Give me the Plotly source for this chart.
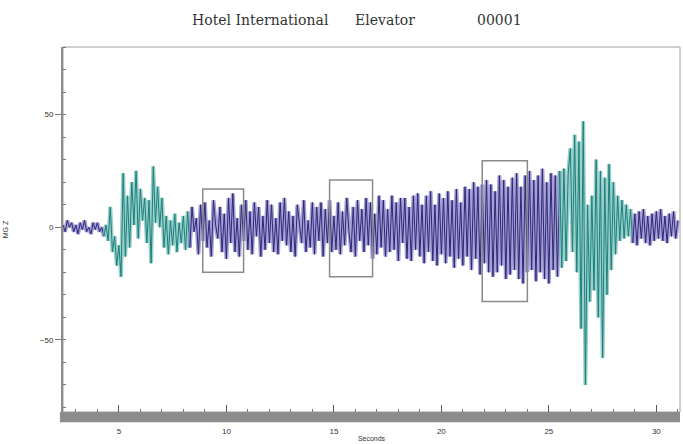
import plotly.graph_objects as go

T0 = 2.4
DT = 0.1
signal = [
    1, -2, 3, 0, 2, -2,
    1, -3, 2, -1, 3, -2, 0, -3, 2, -1,
    2, -2, 0, -4, 1, -6, 9, -11, -4, -17,
    -8, -22, 24, -13, 14, -9, 20, 1, 25, -5,
    17, 3, 13, -7, 12, -16, 27, 2, 18, 0,
    13, -9, 5, -12, 3, -8, 6, -11, 2, -7,
    5, -10, 7, -9, 9, -2, 4, -12, 10, -6,
    11, -9, 3, -13, 12, 1, -5, 9, -11, 6,
    -14, 13, -7, 15, -11, 4, -13, 10, -6, 12,
    -10, 7, -12, 11, -4, 9, -13, 5, -10, 12,
    -7, 10, -11, 4, -12, 11, -6, 13, -8, 7,
    -11, 5, -13, 10, 2, -7, 12, -11, 3, -9,
    11, -12, 9, -6, 11, -13, 8, -7, 12, -11,
    5, -10, 11, -12, 7, -8, 13, -2, -11, 9,
    -13, 12, -6, 8, -11, 13, -8, 11, -14, 6,
    -12, 14, -9, 12, -13, 8, -11, 14, -10, 11,
    -15, 13, -7, 13, -14, 9, -15, 14, -10, 15,
    -13, 10, -16, 14, -11, 16, -15, 10, -17, 15,
    -12, 13, -16, 16, -13, 12, -18, 17, -14, 11,
    -17, 18, -13, 17, -19, 20, -14, 18, -21, 19,
    -16, 21, -20, 19, -22, 16, -20, 23, -17, 21,
    -23, 18, -21, 22, -19, 24, -23, 18, -25, 23,
    -20, 25, -19, 21, -24, 23, -20, 26, -23, 20,
    -25, 24, -19, 23, -22, 25, -18, 26, -15, 24,
    35, -11, 41, -20, 38, -45, 47, -70, 10, -33,
    14, -28, 30, -40, 25, -58, 22, -30, 28, -19,
    20, -12, 14, -6, 12, -5, 10, -4, 8, -7,
    6, -8, 7, -5, 8, -7, 5, -8, 6, -6,
    7, -5, 8, -6, 5, -7, 6, -4, 7, -5,
    3,
]
times = [round(T0 + i * DT, 2) for i in range(len(signal))]

# colour segments: (start s, end s, colour key)
segments = [
    (2.4, 4.3, "navy"),
    (4.3, 8.3, "teal"),
    (8.3, 25.5, "navy"),
    (25.5, 28.9, "teal"),
    (28.9, 31.0, "navy"),
]
colors = {
    "navy": ("rgba(130,120,195,0.7)", "#2d2878"),
    "teal": ("rgba(115,185,180,0.7)", "#17827d"),
}

box_x0 = [8.9, 14.8, 21.9]
box_x1 = [10.8, 16.8, 24.0]
box_y0 = [-20, -22, -33]
box_y1 = [17, 21, 29.5]

x_ticks = [5, 10, 15, 20, 25, 30]
y_ticks = [-50, 0, 50]

title_parts = ["Hotel International", "Elevator", "00001"]
title_centers = [260, 385, 499]  # pixel centres in the 683 px wide page

fig = go.Figure()
for s0, s1, key in segments:
    xs = [t for t in times if s0 - 1e-9 <= t <= s1 + 1e-9]
    ys = [v for t, v in zip(times, signal) if s0 - 1e-9 <= t <= s1 + 1e-9]
    light, dark = colors[key]
    fig.add_trace(go.Scatter(x=xs, y=ys, mode="lines",
                             line=dict(color=light, width=4), hoverinfo="skip",
                             showlegend=False))
    fig.add_trace(go.Scatter(x=xs, y=ys, mode="lines",
                             line=dict(color=dark, width=1), showlegend=False))

for a, b, c, d in zip(box_x0, box_x1, box_y0, box_y1):
    fig.add_shape(type="rect", xref="x", yref="y", x0=a, x1=b, y0=c, y1=d,
                  line=dict(color="#8a8a8a", width=1.5))

# frame and bottom shadow bar
fig.add_shape(type="rect", xref="paper", yref="paper", x0=0, x1=1, y0=0, y1=1,
              line=dict(color="#a0a0a0", width=1), layer="below")
fig.add_shape(type="rect", xref="paper", yref="paper", x0=-0.005, x1=1.0,
              y0=-0.028, y1=0, fillcolor="#8c8c8c", line=dict(width=0), layer="below")

for txt, cx in zip(title_parts, title_centers):
    fig.add_annotation(text=txt, xref="paper", yref="paper",
                       x=(cx - 63) / 617, y=1 + (47 - 20) / 365,
                       xanchor="center", yanchor="middle", showarrow=False,
                       font=dict(family="DejaVu Serif", size=14, color="#333"))

fig.update_layout(
    width=683, height=444,
    margin=dict(l=63, r=3, t=47, b=32),
    paper_bgcolor="white", plot_bgcolor="white",
    font=dict(family="Liberation Sans", size=8, color="#333"),
)
fig.update_xaxes(
    range=[2.4, 31.1], tickvals=x_ticks, showgrid=False, zeroline=False,
    showline=True, linecolor="#8c8c8c", linewidth=2,
    ticks="inside", ticklen=7, tickcolor="#555", tickwidth=1,
    minor=dict(dtick=1, ticks="inside", ticklen=3, tickcolor="#777", showgrid=False),
    ticklabelstandoff=10,
    tickfont=dict(size=8, color="#333"),
    title=dict(text="Seconds", font=dict(size=7, color="#333"), standoff=2),
)
fig.update_yaxes(
    range=[-82, 80], tickvals=y_ticks, showgrid=False, zeroline=False,
    showline=True, linecolor="#8c8c8c", linewidth=2,
    ticks="outside", ticklen=6, tickcolor="#777", tickwidth=1,
    minor=dict(dtick=10, ticks="inside", ticklen=3, tickcolor="#777", showgrid=False),
    tickfont=dict(size=8, color="#333"),
    title=dict(text="MG Z", font=dict(size=7, color="#333"), standoff=30),
)

fig.write_html("out.html")
